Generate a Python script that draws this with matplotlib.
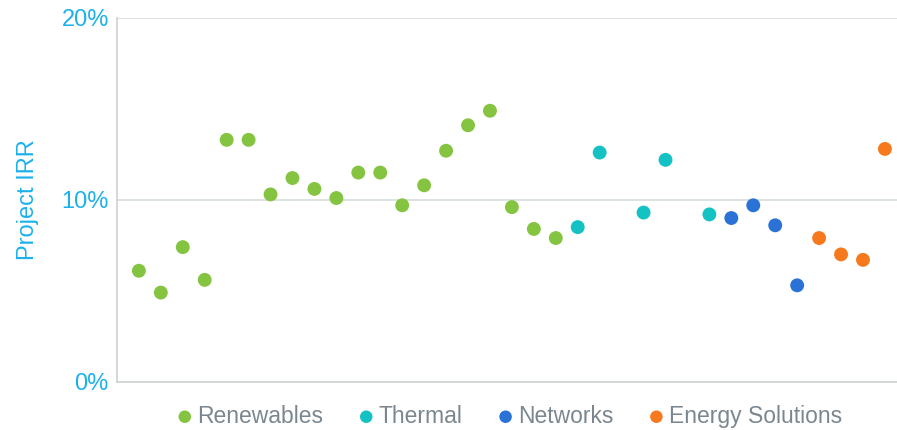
import matplotlib
matplotlib.use('Agg')
import matplotlib.pyplot as plt
from matplotlib.ticker import PercentFormatter

plt.rcParams['font.family'] = ['Liberation Sans', 'DejaVu Sans']

# project number along the x axis, IRR in %
renew_x = list(range(1, 21))
renew_irr = [6.1, 4.9, 7.4, 5.6, 13.3, 13.3, 10.3, 11.2, 10.6, 10.1,
             11.5, 11.5, 9.7, 10.8, 12.7, 14.1, 14.9, 9.6, 8.4, 7.9]
thermal_x = [21, 22, 24, 25, 27]
thermal_irr = [8.5, 12.6, 9.3, 12.2, 9.2]
network_x = [28, 29, 30, 31]
network_irr = [9.0, 9.7, 8.6, 5.3]
energy_x = [32, 33, 34, 35]
energy_irr = [7.9, 7.0, 6.7, 12.8]

series_names = ['Renewables', 'Thermal', 'Networks', 'Energy Solutions']
colors = ['#84c441', '#14c2c3', '#2a72d6', '#f6791e']

label_blue = '#1cb1ea'
grid_col = '#d9dede'

fig = plt.figure(figsize=(8.97, 4.30), dpi=100)
ax = fig.add_axes([116.5 / 897, 48.3 / 430, (897 - 116.5) / 897, (381.7 - 18) / 430])

for xs, ys, name, c in zip([renew_x, thermal_x, network_x, energy_x],
                           [renew_irr, thermal_irr, network_irr, energy_irr],
                           series_names, colors):
    ax.scatter(xs, [y / 100 for y in ys], s=100, color=c, label=name,
               edgecolors='none', zorder=3)

ax.set_xlim(-0.02, 35.55)
ax.set_ylim(0, 0.2)
ax.set_yticks([0, 0.1, 0.2])
ax.yaxis.set_major_formatter(PercentFormatter(1.0, decimals=0))
ax.set_xticks([])
ax.tick_params(axis='y', length=0, pad=5.5, labelsize=17, labelcolor=label_blue)
ax.grid(axis='y', color=grid_col, lw=1.3, zorder=0)

for s in ['top', 'right']:
    ax.spines[s].set_visible(False)
for s in ['left', 'bottom']:
    ax.spines[s].set_color('#d0d4d6')
    ax.spines[s].set_linewidth(1.3)

ax.set_ylabel('Project IRR', fontsize=17, color=label_blue, labelpad=16)

leg = fig.legend(loc='center', bbox_to_anchor=(0.5686, 0.032), ncol=4,
                 frameon=False, fontsize=16.5, handlelength=0.6,
                 handletextpad=0.25, columnspacing=1.57, markerscale=0.9,
                 borderaxespad=0)
for t in leg.get_texts():
    t.set_color('#7b8790')

fig.savefig('out.png', dpi=100)
